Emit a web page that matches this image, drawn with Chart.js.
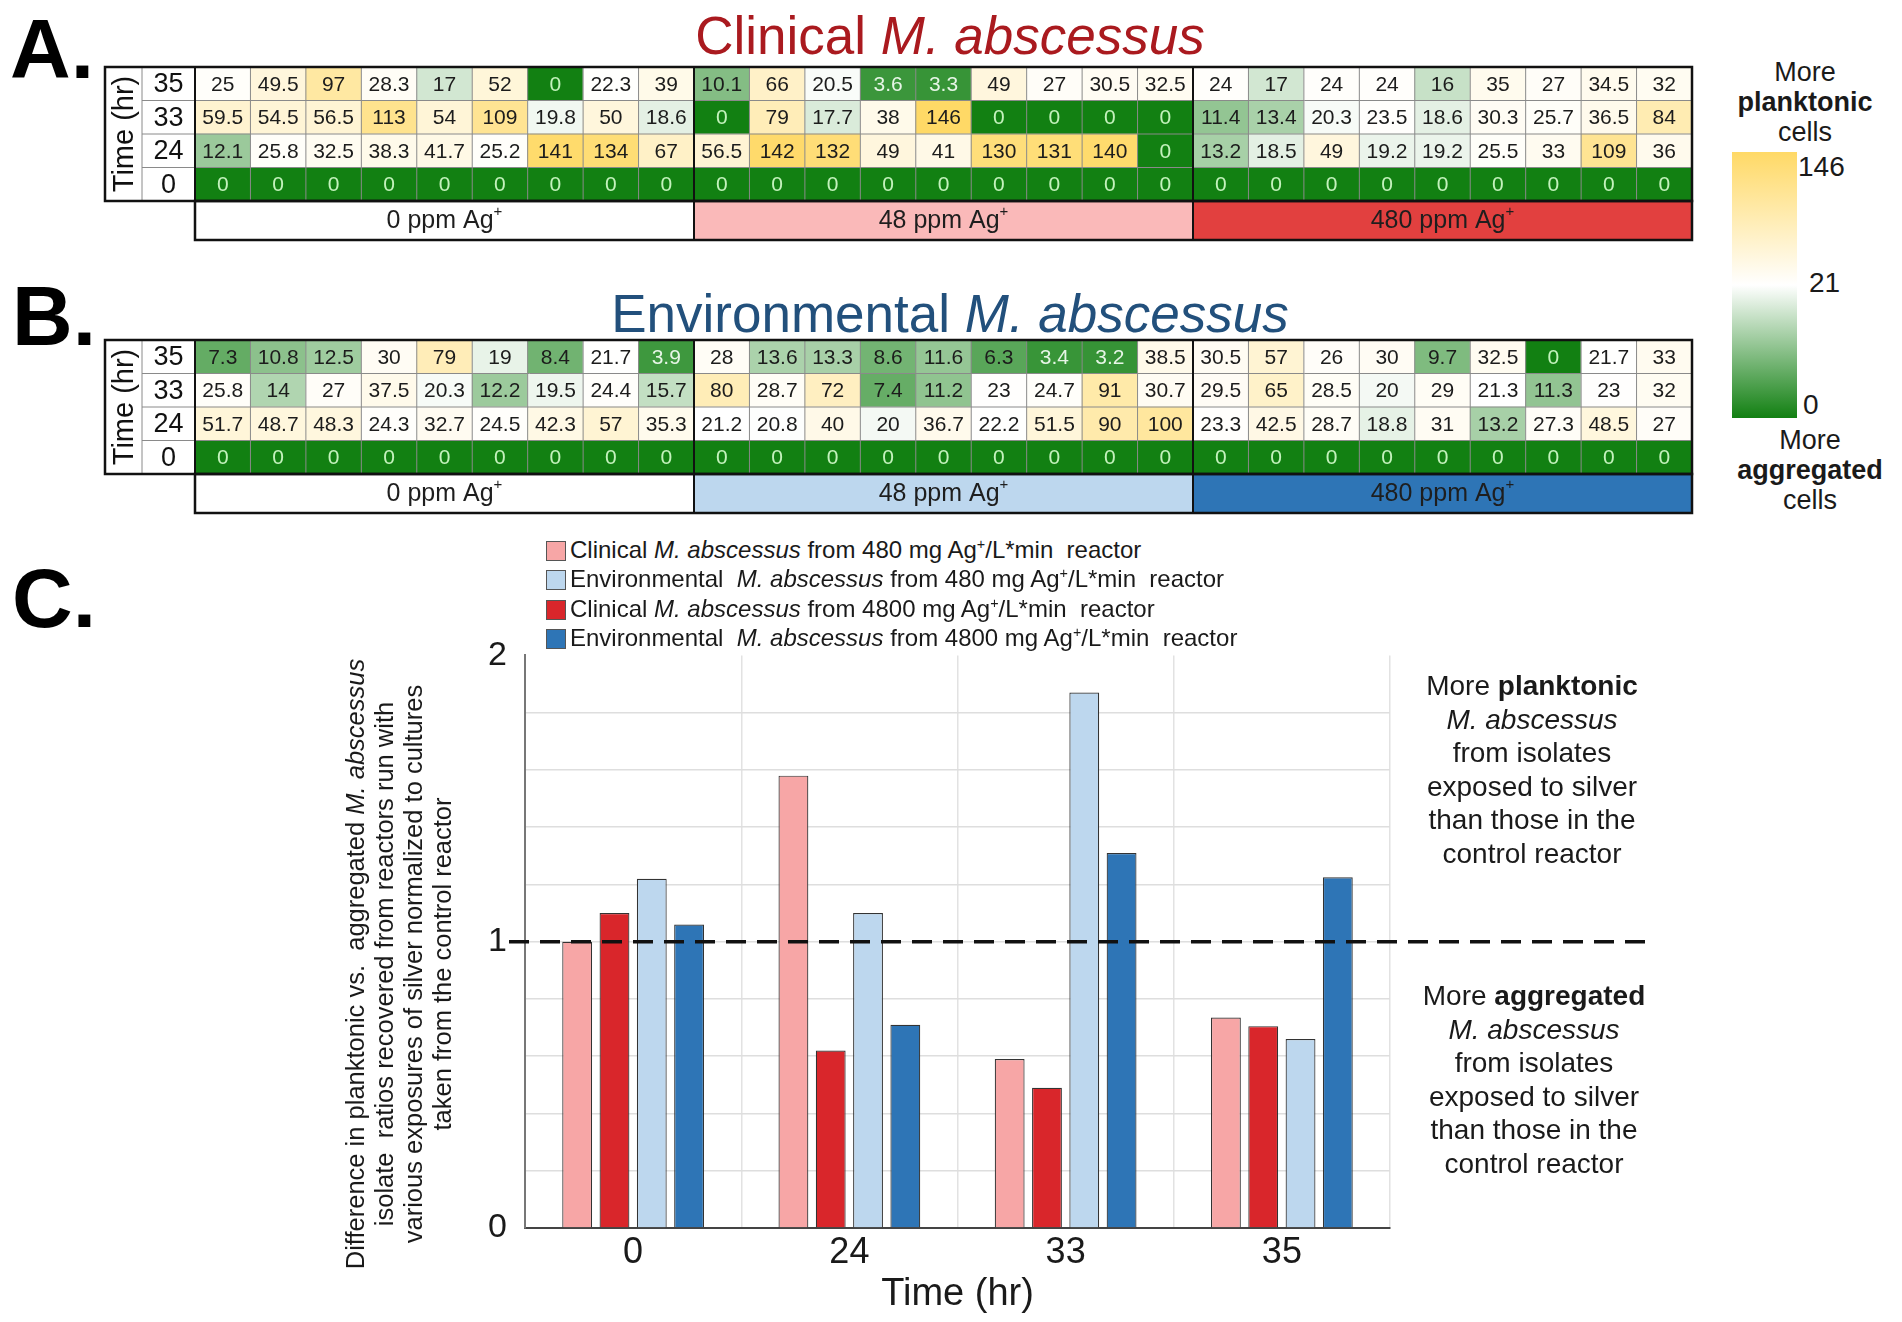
<!DOCTYPE html>
<html>
<head>
<meta charset="utf-8">
<script src="https://cdn.jsdelivr.net/npm/chart.js@4.4.1/dist/chart.umd.min.js"></script>
<style>
  body { margin: 0; background: #fff; width: 1902px; height: 1322px; position: relative; overflow: hidden;
         font-family: "Liberation Sans", Arial, sans-serif; color: #1a1a1a; }
  .abs { position: absolute; }
  .panel { font-weight: bold; font-size: 84px; line-height: 1; color: #000; }
  .title { font-size: 53px; line-height: 1; text-align: center; white-space: nowrap; }
  .cbar-text { font-size: 27px; line-height: 30px; text-align: center; width: 190px; }
  .cbar-tick { font-size: 28px; line-height: 1; }
  .legend-row { position: absolute; left: 546px; height: 24px; font-size: 24px; line-height: 24px; white-space: nowrap; z-index: 2; }
  .legend-row span.sw { display: inline-block; width: 20px; height: 20px; border: 1px solid #555; box-sizing: border-box;
                        vertical-align: -3px; margin-right: 4px; }
  sup { font-size: 60%; line-height: 0; }
  .note { font-size: 28px; line-height: 33.5px; text-align: center; width: 340px; }
  .ytitle { font-size: 25.5px; line-height: 29px; text-align: center; width: 720px; height: 116px;
            transform: rotate(-90deg); transform-origin: center center; white-space: nowrap; }
</style>
</head>
<body>

<div class="abs panel" style="left:10px; top:7px;">A.</div>
<div class="abs panel" style="left:12px; top:274px;">B.</div>
<div class="abs panel" style="left:12px; top:556px;">C.</div>

<div class="abs title" style="left:450px; width:1000px; top:9px; color:#aa1a1f;">Clinical <i>M. abscessus</i></div>
<div class="abs title" style="left:450px; width:1000px; top:287px; color:#22507c;">Environmental <i>M. abscessus</i></div>

<canvas id="heatA" class="abs" width="1610" height="190" style="left:100px; top:60px;"></canvas>
<canvas id="heatB" class="abs" width="1610" height="190" style="left:100px; top:333px;"></canvas>

<!-- colour key -->
<div class="abs cbar-text" style="left:1710px; top:57px;">More<br><b>planktonic</b><br>cells</div>
<div class="abs" style="left:1732px; top:152px; width:65px; height:266px;
     background: linear-gradient(to bottom, rgb(255,217,102) 0%, #ffffff 50%, rgb(18,128,18) 100%);"></div>
<div class="abs cbar-tick" style="left:1798px; top:153px;">146</div>
<div class="abs cbar-tick" style="left:1809px; top:269px;">21</div>
<div class="abs cbar-tick" style="left:1803px; top:391px;">0</div>
<div class="abs cbar-text" style="left:1715px; top:425px;">More<br><b>aggregated</b><br>cells</div>

<canvas id="barC" class="abs" width="1462" height="705" style="left:440px; top:617px;"></canvas>

<!-- bar chart legend -->
<div class="legend-row" style="top:538px;"><span class="sw" style="background:#f7a6a6"></span>Clinical <i>M. abscessus</i> from 480 mg Ag<sup>+</sup>/L*min&nbsp; reactor</div>
<div class="legend-row" style="top:567px;"><span class="sw" style="background:#bdd7ee"></span>Environmental&nbsp; <i>M. abscessus</i> from 480 mg Ag<sup>+</sup>/L*min&nbsp; reactor</div>
<div class="legend-row" style="top:597px;"><span class="sw" style="background:#d9262b"></span>Clinical <i>M. abscessus</i> from 4800 mg Ag<sup>+</sup>/L*min&nbsp; reactor</div>
<div class="legend-row" style="top:626px;"><span class="sw" style="background:#2e75b6"></span>Environmental&nbsp; <i>M. abscessus</i> from 4800 mg Ag<sup>+</sup>/L*min&nbsp; reactor</div>

<div class="abs ytitle" style="left:39px; top:906px;">
  Difference in planktonic vs.&nbsp; aggregated <i>M. abscessus</i><br>
  isolate&nbsp; ratios recovered from reactors run with<br>
  various exposures of silver normalized to cultures<br>
  taken from the control reactor
</div>

<div class="abs note" style="left:1362px; top:669px;">More <b>planktonic</b><br><i>M. abscessus</i><br>from isolates<br>exposed to silver<br>than those in the<br>control reactor</div>
<div class="abs note" style="left:1364px; top:979px;">More <b>aggregated</b><br><i>M. abscessus</i><br>from isolates<br>exposed to silver<br>than those in the<br>control reactor</div>

<script>
Chart.defaults.font.family = '"Liberation Sans", Arial, sans-serif';
Chart.defaults.color = '#1a1a1a';

// ---- heatmap data (A: clinical, B: environmental) ----
const timeRows = ['0', '24', '33', '35'];          // bottom -> top
const silverGroups = ['0 ppm Ag', '48 ppm Ag', '480 ppm Ag'];
const isolatesPerGroup = 9;

const clinical0  = [0, 0, 0, 0, 0, 0, 0, 0, 0,  0, 0, 0, 0, 0, 0, 0, 0, 0,  0, 0, 0, 0, 0, 0, 0, 0, 0];
const clinical24 = [12.1, 25.8, 32.5, 38.3, 41.7, 25.2, 141, 134, 67,
                    56.5, 142, 132, 49, 41, 130, 131, 140, 0,
                    13.2, 18.5, 49, 19.2, 19.2, 25.5, 33, 109, 36];
const clinical33 = [59.5, 54.5, 56.5, 113, 54, 109, 19.8, 50, 18.6,
                    0, 79, 17.7, 38, 146, 0, 0, 0, 0,
                    11.4, 13.4, 20.3, 23.5, 18.6, 30.3, 25.7, 36.5, 84];
const clinical35 = [25, 49.5, 97, 28.3, 17, 52, 0, 22.3, 39,
                    10.1, 66, 20.5, 3.6, 3.3, 49, 27, 30.5, 32.5,
                    24, 17, 24, 24, 16, 35, 27, 34.5, 32];

const environmental0  = [0, 0, 0, 0, 0, 0, 0, 0, 0,  0, 0, 0, 0, 0, 0, 0, 0, 0,  0, 0, 0, 0, 0, 0, 0, 0, 0];
const environmental24 = [51.7, 48.7, 48.3, 24.3, 32.7, 24.5, 42.3, 57, 35.3,
                         21.2, 20.8, 40, 20, 36.7, 22.2, 51.5, 90, 100,
                         23.3, 42.5, 28.7, 18.8, 31, 13.2, 27.3, 48.5, 27];
const environmental33 = [25.8, 14, 27, 37.5, 20.3, 12.2, 19.5, 24.4, 15.7,
                         80, 28.7, 72, 7.4, 11.2, 23, 24.7, 91, 30.7,
                         29.5, 65, 28.5, 20, 29, 21.3, 11.3, 23, 32];
const environmental35 = [7.3, 10.8, 12.5, 30, 79, 19, 8.4, 21.7, 3.9,
                         28, 13.6, 13.3, 8.6, 11.6, 6.3, 3.4, 3.2, 38.5,
                         30.5, 57, 26, 30, 9.7, 32.5, 0, 21.7, 33];

const scaleMin = 0, scaleMid = 21, scaleMax = 146;

// ---- bar chart data (C) ----
const timeLabels = ['0', '24', '33', '35'];
const clinical480 = [1.0, 1.58, 0.59, 0.735];
const clinical4800 = [1.10, 0.62, 0.49, 0.705];
const environmental480 = [1.22, 1.10, 1.87, 0.66];
const environmental4800 = [1.06, 0.71, 1.31, 1.225];

const columnLabels = [];
silverGroups.forEach((g) => {
  for (let i = 1; i <= isolatesPerGroup; i++) columnLabels.push(`${g} #${i}`);
});

const GREEN = [18, 128, 18], WHITE = [255, 255, 255], YELLOW = [255, 217, 102];
const mix = (c1, c2, t) => `rgb(${c1.map((c, i) => Math.round(c + (c2[i] - c) * t)).join(',')})`;

function heatColor(v) {
  if (v <= scaleMid) return mix(GREEN, WHITE, (v - scaleMin) / (scaleMid - scaleMin));
  return mix(WHITE, YELLOW, Math.min(1, (v - scaleMid) / (scaleMax - scaleMid)));
}

function cellTextColor(v) {
  if (v === 0) return '#c4f2bd';
  if (v < 5) return '#e6f5e6';
  return '#1c1c1c';
}

// draws the labels, the grid, the time column and the silver-dose bars of a heat table
const heatTable = {
  id: 'heatTable',
  afterDatasetsDraw(chart, args, opts) {
    const { ctx, chartArea: a } = chart;
    const metas = chart.data.datasets.map((d, i) => chart.getDatasetMeta(i));
    const firstRow = metas[0].data;
    const colEdges = firstRow.map((b) => b.x - b.width / 2);
    const last = firstRow[firstRow.length - 1];
    colEdges.push(last.x + last.width / 2);
    const rowEdges = metas.map((m) => m.data[0].base);
    rowEdges.push(metas[metas.length - 1].data[0].y);

    const labelLeft = a.left - 90;
    const timeColLeft = a.left - 53;
    const groupH = opts.groupHeight;
    const font = Chart.defaults.font.family;

    ctx.save();

    // silver dose bars
    silverGroups.forEach((g, gi) => {
      const x0 = colEdges[gi * isolatesPerGroup];
      const x1 = colEdges[(gi + 1) * isolatesPerGroup];
      ctx.fillStyle = opts.groupColors[gi];
      ctx.fillRect(x0, a.bottom, x1 - x0, groupH);
      ctx.fillStyle = '#1e1e1e';
      ctx.font = `25px ${font}`;
      ctx.textBaseline = 'middle';
      const w = ctx.measureText(g).width;
      ctx.font = `15px ${font}`;
      const wp = ctx.measureText('+').width;
      const cx = (x0 + x1) / 2 - (w + wp) / 2;
      const cy = a.bottom + groupH / 2 + 1;
      ctx.textAlign = 'left';
      ctx.font = `25px ${font}`;
      ctx.fillText(g, cx, cy);
      ctx.font = `15px ${font}`;
      ctx.fillText('+', cx + w, cy - 10);
    });

    // cell values
    ctx.textAlign = 'center';
    ctx.textBaseline = 'middle';
    ctx.font = `21px ${font}`;
    metas.forEach((m, r) => {
      const values = chart.data.datasets[r].values;
      m.data.forEach((bar, c) => {
        ctx.fillStyle = cellTextColor(values[c]);
        ctx.fillText(String(values[c]), bar.x, (bar.y + bar.base) / 2 + 1);
      });
    });

    // time column
    ctx.fillStyle = '#111';
    ctx.font = `27px ${font}`;
    chart.data.datasets.forEach((ds, r) => {
      ctx.fillText(ds.label, (timeColLeft + a.left) / 2, (rowEdges[r] + rowEdges[r + 1]) / 2 + 1);
    });
    ctx.save();
    ctx.translate((labelLeft + timeColLeft) / 2 + 1, (a.top + a.bottom) / 2);
    ctx.rotate(-Math.PI / 2);
    ctx.font = `29px ${font}`;
    ctx.fillText('Time (hr)', 0, 0);
    ctx.restore();

    // thin grid lines
    ctx.strokeStyle = '#8a8a8a';
    ctx.lineWidth = 1;
    ctx.beginPath();
    colEdges.slice(1, -1).forEach((x, i) => {
      if ((i + 1) % isolatesPerGroup === 0) return;
      ctx.moveTo(x, a.top); ctx.lineTo(x, a.bottom);
    });
    rowEdges.slice(1, -1).forEach((y) => {
      ctx.moveTo(timeColLeft, y); ctx.lineTo(a.right, y);
    });
    ctx.moveTo(timeColLeft, a.top); ctx.lineTo(timeColLeft, a.bottom);
    ctx.stroke();

    // dark frame lines
    ctx.strokeStyle = '#111';
    ctx.lineWidth = 2;
    ctx.beginPath();
    for (let gi = 1; gi < silverGroups.length; gi++) {
      const x = colEdges[gi * isolatesPerGroup];
      ctx.moveTo(x, a.top); ctx.lineTo(x, a.bottom + groupH);
    }
    ctx.moveTo(a.left, a.top); ctx.lineTo(a.left, a.bottom + groupH);
    ctx.stroke();
    ctx.lineWidth = 2.5;
    ctx.strokeRect(labelLeft, a.top, a.right - labelLeft, a.bottom - a.top);
    ctx.strokeRect(a.left, a.bottom, a.right - a.left, groupH);
    ctx.restore();
  }
};

function buildHeatmap(canvasId, rows, groupColors) {
  return new Chart(document.getElementById(canvasId), {
    type: 'bar',
    data: {
      labels: columnLabels,
      datasets: rows.map((vals, r) => ({
        label: timeRows[r],
        values: vals,
        data: vals.map(() => 1),
        backgroundColor: vals.map(heatColor),
        borderWidth: 0,
        barPercentage: 1,
        categoryPercentage: 1,
      })),
    },
    options: {
      responsive: false,
      animation: false,
      devicePixelRatio: 1,
      layout: { padding: { left: 95, right: 18, top: 7, bottom: 49 } },
      plugins: {
        legend: { display: false },
        tooltip: { enabled: false },
        heatTable: { groupColors, groupHeight: 39 },
      },
      scales: {
        x: { display: false, stacked: true },
        y: { display: false, stacked: true, min: 0, max: timeRows.length },
      },
    },
    plugins: [heatTable],
  });
}

buildHeatmap('heatA', [clinical0, clinical24, clinical33, clinical35], ['#ffffff', '#fab9b9', '#e2403f']);
buildHeatmap('heatB', [environmental0, environmental24, environmental33, environmental35], ['#ffffff', '#bdd7ee', '#2e75b6']);

// dashed reference line at ratio 1
const refLine = {
  id: 'refLine',
  afterDatasetsDraw(chart, args, opts) {
    const { ctx, chartArea: a, scales: { y } } = chart;
    const py = y.getPixelForValue(opts.value);
    ctx.save();
    ctx.strokeStyle = '#111';
    ctx.lineWidth = 3.5;
    ctx.setLineDash([20, 11]);
    ctx.beginPath();
    ctx.moveTo(a.left - 16, py);
    ctx.lineTo(a.right + opts.extend, py);
    ctx.stroke();
    ctx.restore();
  }
};

new Chart(document.getElementById('barC'), {
  type: 'bar',
  data: {
    labels: timeLabels,
    datasets: [
      { label: 'Clinical 480', data: clinical480, backgroundColor: '#f7a6a6' },
      { label: 'Clinical 4800', data: clinical4800, backgroundColor: '#d9262b' },
      { label: 'Environmental 480', data: environmental480, backgroundColor: '#bdd7ee' },
      { label: 'Environmental 4800', data: environmental4800, backgroundColor: '#2e75b6' },
    ].map((d) => ({ ...d, borderColor: '#333', borderWidth: 1.2, categoryPercentage: 0.69, barPercentage: 0.8 })),
  },
  options: {
    responsive: false,
    animation: false,
    devicePixelRatio: 1,
    layout: { padding: { left: 0, right: 512, top: 18, bottom: 0 } },
    plugins: {
      legend: { display: false },
      tooltip: { enabled: false },
      refLine: { value: 1, extend: 262 },
    },
    scales: {
      x: {
        grid: { color: '#e2e2e2', lineWidth: 1.5, drawTicks: false },
        border: { color: '#444', width: 2 },
        ticks: { font: { size: 36 }, color: '#1a1a1a', padding: 3 },
        title: { display: true, text: 'Time (hr)', font: { size: 38 }, color: '#1a1a1a', padding: { top: 0, bottom: 5 } },
        afterFit: (scale) => { scale.height = 94; },
      },
      y: {
        min: 0,
        max: 2,
        grid: {
          color: (c) => (c.tick && c.tick.value === 2 ? 'rgba(0,0,0,0)' : '#dedede'),
          lineWidth: 1.5,
          drawTicks: false,
        },
        border: { color: '#777', width: 2 },
        ticks: {
          stepSize: 0.2,
          font: { size: 34 },
          color: '#1a1a1a',
          padding: 18,
          callback: (v) => (Math.abs(v - Math.round(v)) < 1e-6 ? String(Math.round(v)) : ''),
        },
        afterFit: (scale) => { scale.width = 85; },
      },
    },
  },
  plugins: [refLine],
});
</script>
</body>
</html>
